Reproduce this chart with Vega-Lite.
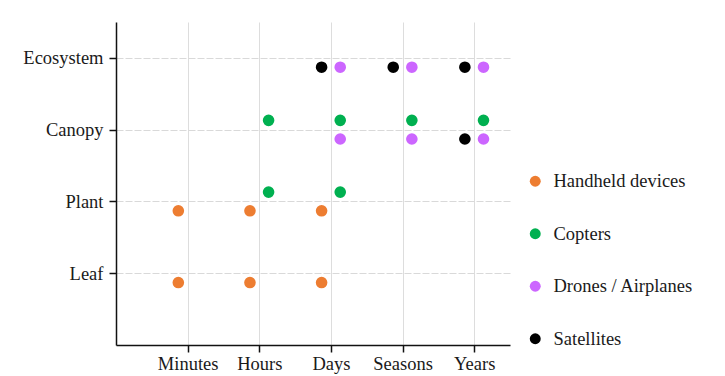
{
  "$schema": "https://vega.github.io/schema/vega-lite/v6.json",
  "autosize": {"type": "none"},
  "padding": {"left": 116, "top": 22, "right": 215, "bottom": 31},
  "width": 394,
  "height": 323,
  "background": "white",
  "config": {
    "view": {"stroke": null},
    "font": "Liberation Serif",
    "axis": {
      "labelFont": "Liberation Serif",
      "labelFontSize": 18.5,
      "labelColor": "#1a1a1a",
      "domainColor": "#111111",
      "domainWidth": 1.5,
      "tickColor": "#111111",
      "tickWidth": 1.5,
      "tickSize": 7,
      "gridColor": "#dcdcdc",
      "gridWidth": 1,
      "title": null
    },
    "legend": {
      "labelFont": "Liberation Serif",
      "labelFontSize": 18.5,
      "labelColor": "#1a1a1a"
    }
  },
  "data": {
    "values": [
      {"timescale": 0.87, "level": 0.87, "platform": "Handheld devices"},
      {"timescale": 1.87, "level": 0.87, "platform": "Handheld devices"},
      {"timescale": 2.87, "level": 0.87, "platform": "Handheld devices"},
      {"timescale": 0.87, "level": 1.87, "platform": "Handheld devices"},
      {"timescale": 1.87, "level": 1.87, "platform": "Handheld devices"},
      {"timescale": 2.87, "level": 1.87, "platform": "Handheld devices"},
      {"timescale": 2.13, "level": 2.13, "platform": "Copters"},
      {"timescale": 3.13, "level": 2.13, "platform": "Copters"},
      {"timescale": 2.13, "level": 3.13, "platform": "Copters"},
      {"timescale": 3.13, "level": 3.13, "platform": "Copters"},
      {"timescale": 4.13, "level": 3.13, "platform": "Copters"},
      {"timescale": 5.13, "level": 3.13, "platform": "Copters"},
      {"timescale": 3.13, "level": 2.87, "platform": "Drones / Airplanes"},
      {"timescale": 4.13, "level": 2.87, "platform": "Drones / Airplanes"},
      {"timescale": 5.13, "level": 2.87, "platform": "Drones / Airplanes"},
      {"timescale": 3.13, "level": 3.87, "platform": "Drones / Airplanes"},
      {"timescale": 4.13, "level": 3.87, "platform": "Drones / Airplanes"},
      {"timescale": 5.13, "level": 3.87, "platform": "Drones / Airplanes"},
      {"timescale": 2.87, "level": 3.87, "platform": "Satellites"},
      {"timescale": 3.87, "level": 3.87, "platform": "Satellites"},
      {"timescale": 4.87, "level": 3.87, "platform": "Satellites"},
      {"timescale": 4.87, "level": 2.87, "platform": "Satellites"}
    ]
  },
  "mark": {"type": "circle", "size": 135, "opacity": 1},
  "encoding": {
    "x": {
      "field": "timescale",
      "type": "quantitative",
      "scale": {"domain": [0, 5.5], "nice": false, "zero": false},
      "axis": {
        "values": [1, 2, 3, 4, 5],
        "labelExpr": "datum.value == 1 ? 'Minutes' : datum.value == 2 ? 'Hours' : datum.value == 3 ? 'Days' : datum.value == 4 ? 'Seasons' : 'Years'",
        "labelPadding": 2,
        "grid": true,
        "gridColor": "#dddddd"
      }
    },
    "y": {
      "field": "level",
      "type": "quantitative",
      "scale": {"domain": [0, 4.5], "nice": false, "zero": false},
      "axis": {
        "values": [1, 2, 3, 4],
        "labelExpr": "datum.value == 1 ? 'Leaf' : datum.value == 2 ? 'Plant' : datum.value == 3 ? 'Canopy' : 'Ecosystem'",
        "labelPadding": 6,
        "grid": true,
        "gridDash": [7, 2],
        "gridColor": "#d9d9d9"
      }
    },
    "color": {
      "field": "platform",
      "type": "nominal",
      "scale": {
        "domain": ["Handheld devices", "Copters", "Drones / Airplanes", "Satellites"],
        "range": ["#ED7D31", "#00B050", "#CC66FF", "#000000"]
      },
      "legend": {
        "title": null,
        "orient": "none",
        "legendX": 410,
        "legendY": 150,
        "symbolType": "circle",
        "symbolSize": 120,
        "symbolStrokeWidth": 0,
        "rowPadding": 33.5,
        "labelOffset": 9
      }
    }
  }
}
